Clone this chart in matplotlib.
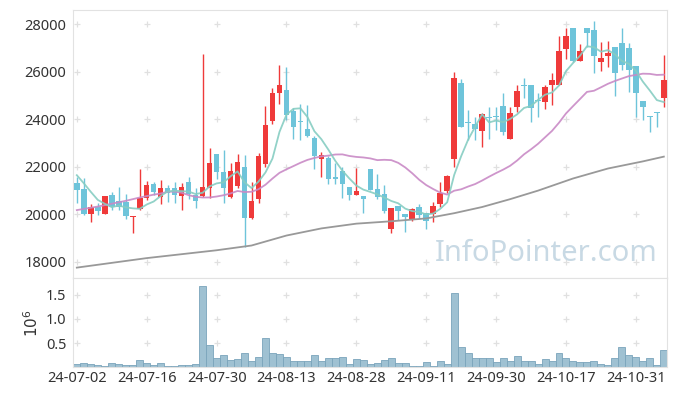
import numpy as np
import pandas as pd
import matplotlib
matplotlib.use('Agg')
import matplotlib.pyplot as plt
from matplotlib.ticker import FuncFormatter

plt.rcParams['font.family'] = ['Noto Sans', 'DejaVu Sans']

# daily prices, 2024-07-02 .. 2024-11-06 (trading days)
opens = [21300, 21040, 19990, 20280, 19990, 20800, 20550, 20520, 19860, 20200,
         20660, 21260, 20730, 21110, 21080, 20770, 21360, 20800, 20760, 21080,
         22530, 21760, 20730, 21200, 22000, 19850, 20650, 22110, 23920, 25110,
         25220, 24350, 23900, 23580, 23200, 22330, 22370, 21570, 21830, 21150,
         20800, 20770, 21910, 21040, 20840, 19370, 20350, 20000, 19780, 20280,
         20030, 19990, 20420, 20990, 22300, 25500, 23860, 23790, 23510, 24070,
         24130, 24550, 23150, 24520, 25420, 25430, 24790, 24730, 25430, 25430,
         26950, 27820, 26460, 27820, 27750, 26410, 26670, 27020, 27190, 26980,
         26230, 24770, 24130, 24310, 24870]
highs = [21550, 21530, 20420, 20450, 20780, 20950, 21150, 20830, 19920, 21880,
         21400, 21350, 21430, 21220, 21360, 21290, 21550, 21080, 26740, 22770,
         22530, 22720, 22140, 22530, 22490, 21360, 22580, 24530, 25290, 26270,
         26180, 24450, 24630, 24590, 23290, 22630, 22440, 22140, 22000, 21150,
         21950, 20770, 21910, 21690, 21220, 20260, 20350, 20000, 20240, 20420,
         20030, 20520, 21360, 21640, 25990, 25670, 24380, 24100, 24270, 24490,
         24520, 25110, 24520, 25430, 25710, 25430, 25080, 25430, 25950, 27500,
         27820, 27820, 27140, 27820, 28140, 27260, 27300, 27020, 27820, 27190,
         26230, 24770, 24130, 24310, 26700]
lows = [20480, 19950, 19690, 19950, 19990, 20180, 20170, 19780, 19220, 20170,
        20590, 20800, 20420, 20520, 20450, 20170, 20620, 20240, 20730, 20660,
        21500, 20480, 20660, 21080, 18630, 19800, 20490, 21980, 23790, 24630,
        23960, 23150, 23120, 23230, 21920, 21570, 21270, 21250, 20660, 20590,
        20800, 20030, 21010, 20620, 20030, 19190, 19750, 19260, 19710, 19820,
        19360, 19680, 20310, 20870, 22000, 23680, 23120, 23120, 22840, 23150,
        23540, 23330, 23150, 24310, 24870, 23890, 24100, 24410, 24590, 25430,
        26510, 26410, 26460, 27050, 25950, 26020, 26180, 24970, 26060, 25150,
        24100, 23960, 23470, 23650, 24520]
closes = [21010, 19990, 20280, 20140, 20760, 20310, 20310, 19920, 19920, 20660,
          21220, 20940, 21080, 20880, 20800, 21150, 20840, 20560, 21150, 22140,
          21780, 21080, 21810, 22190, 19850, 20550, 22440, 23750, 25110, 25450,
          24170, 23680, 23860, 23290, 22440, 22490, 21480, 21490, 21250, 20800,
          20990, 20630, 21010, 20730, 20140, 20260, 20140, 19890, 20210, 19970,
          19720, 20340, 20870, 21600, 25710, 23680, 23820, 23570, 24210, 24030,
          24070, 23470, 24240, 25180, 25390, 24480, 24750, 25330, 25640, 26860,
          27500, 26460, 26860, 27640, 26670, 26560, 26790, 25950, 26270, 26060,
          25080, 24520, 24070, 24270, 25640]
# volume in millions of shares
volumes = [0.07, 0.09, 0.07, 0.05, 0.03, 0.09, 0.07, 0.05, 0.05, 0.16,
           0.09, 0.05, 0.09, 0.03, 0.03, 0.05, 0.05, 0.07, 1.69, 0.46,
           0.19, 0.26, 0.16, 0.17, 0.30, 0.14, 0.21, 0.61, 0.30, 0.28,
           0.21, 0.14, 0.14, 0.12, 0.26, 0.14, 0.19, 0.19, 0.21, 0.07,
           0.17, 0.16, 0.07, 0.09, 0.16, 0.19, 0.09, 0.09, 0.02, 0.02,
           0.10, 0.02, 0.12, 0.06, 1.54, 0.42, 0.30, 0.19, 0.19, 0.19,
           0.10, 0.19, 0.12, 0.23, 0.14, 0.14, 0.07, 0.17, 0.14, 0.30,
           0.19, 0.12, 0.10, 0.10, 0.14, 0.07, 0.05, 0.19, 0.42, 0.25,
           0.21, 0.12, 0.19, 0.05, 0.35]

# moving averages need history before the window -> early values
ma5_head = [21640, 21300, 20940, 20600]
ma20_head = [20170, 20220, 20270, 20320, 20380, 20440, 20500, 20560, 20630, 20700,
             20760, 20820, 20870, 20940, 20950, 20900, 20800, 20730, 20700]
ma120_idx = [0, 10, 20, 25, 30, 35, 40, 45, 50, 54, 58, 62, 66, 71, 76, 81, 84]
ma120_val = [17750, 18150, 18480, 18680, 19100, 19400, 19600, 19700, 19820, 20040,
             20300, 20630, 20990, 21500, 21920, 22220, 22420]

tick_labels = ['24-07-02', '24-07-16', '24-07-30', '24-08-13', '24-08-28',
               '24-09-11', '24-09-30', '24-10-17', '24-10-31']

n = len(closes)
x = np.arange(n)
cl = pd.Series(closes, dtype=float)
ma5 = cl.rolling(5).mean().values
ma5[:len(ma5_head)] = ma5_head
ma20 = cl.rolling(20).mean().values
ma20[:len(ma20_head)] = ma20_head

UP = '#ef3a3a'
DOWN = '#6ec4da'

fig = plt.figure(figsize=(6.77, 3.96), dpi=100)
ax = fig.add_axes([0.1083, 0.2972, 0.8774, 0.6775])
axv = fig.add_axes([0.1083, 0.0725, 0.8774, 0.2247], sharex=ax)

o = np.array(opens); c = np.array(closes)
h = np.array(highs); l = np.array(lows)
col = np.where(c >= o, UP, DOWN)
ax.vlines(x, l, h, colors=col, lw=1.0, zorder=2)
body = np.maximum(np.abs(c - o), 40)
ax.bar(x, body, bottom=np.minimum(o, c), width=0.8, color=col, zorder=3)

ax.plot(ma120_idx, ma120_val, color='#999999', lw=1.3, zorder=4)
ax.plot(x, ma20, color='#c98ac6', lw=1.3, alpha=0.9, zorder=4)
ax.plot(x, ma5, color='#86cdc2', lw=1.3, alpha=0.9, zorder=4)

ax.text(0.983, 0.04, 'InfoPointer.com', transform=ax.transAxes, ha='right', va='bottom',
        fontsize=21, color='#c8d9e4', zorder=1)

axv.bar(x, volumes, width=1.0, color='#9fc1d2', edgecolor='#7aa4bb', lw=0.6)

ax.set_xlim(-0.5, n - 0.5)
ax.set_ylim(17300, 28590)
axv.set_ylim(0, 1.84)

yt = np.arange(18000, 28001, 2000)
ax.set_yticks(yt)
ax.set_yticklabels([str(v) for v in yt])
vt = [0.5, 1.0, 1.5]
axv.set_yticks(vt)
axv.yaxis.set_major_formatter(FuncFormatter(lambda v, p: f'{v:.1f}'))
xt = np.arange(0, n, 10)[:len(tick_labels)]
axv.set_xticks(xt)
axv.set_xticklabels(tick_labels)
plt.setp(ax.get_xticklabels(), visible=False)
axv.set_ylabel(r'$10^6$', fontsize=11, color='#333333', labelpad=3)

# grid drawn as small crosses
for a, ys in ((ax, yt), (axv, vt)):
    gx, gy = np.meshgrid(xt, ys)
    a.plot(gx.ravel(), gy.ravel(), '+', color='#e0e0e0', ms=4.5, mew=0.9, zorder=0)
    a.tick_params(length=0, labelsize=10.5, labelcolor='#333333', pad=5)
    for s in a.spines.values():
        s.set_color('#e2e2e2')
axv.tick_params(axis='x', pad=3)

fig.savefig('out.png', dpi=100)
